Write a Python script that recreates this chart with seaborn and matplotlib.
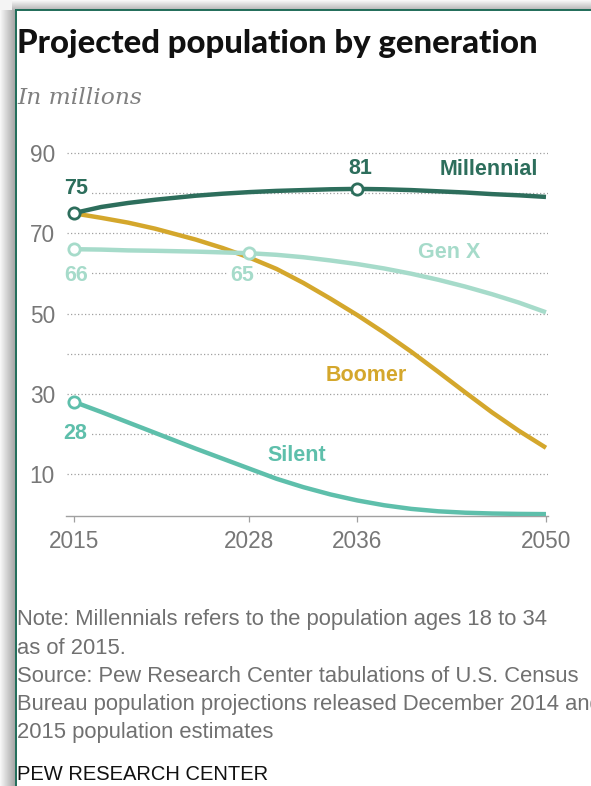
import numpy as np
import pandas as pd
import matplotlib
matplotlib.use("Agg")
import matplotlib.pyplot as plt
import seaborn as sns

# ---- data (millions) ----
years = [2015, 2017, 2019, 2021, 2024, 2026, 2028, 2030, 2032, 2034,
         2036, 2038, 2040, 2042, 2044, 2046, 2048, 2050]
millennial = [75.0, 76.5, 77.5, 78.3, 79.3, 79.8, 80.2, 80.5, 80.7, 80.9,
              81.0, 80.9, 80.7, 80.4, 80.1, 79.7, 79.4, 79.0]
gen_x = [66.0, 65.9, 65.7, 65.6, 65.4, 65.2, 65.0, 64.6, 64.0, 63.2,
         62.3, 61.2, 59.9, 58.4, 56.7, 54.8, 52.7, 50.3]
boomer = [74.9, 73.8, 72.6, 71.1, 68.4, 66.3, 63.9, 61.1, 57.6, 53.7,
          49.6, 45.2, 40.5, 35.5, 30.4, 25.4, 20.8, 16.6]
silent = [28.0, 25.5, 22.9, 20.3, 16.4, 13.9, 11.4, 8.9, 6.8, 5.0,
          3.5, 2.3, 1.4, 0.8, 0.45, 0.25, 0.15, 0.1]

generations = ["Silent", "Boomer", "Gen X", "Millennial"]
x_ticks = [2015, 2028, 2036, 2050]
y_ticks = [10, 30, 50, 70, 90]
grid_levels = [10, 20, 30, 40, 50, 60, 70, 80, 90]
marked_years = {"Millennial": [2015, 2036], "Gen X": [2015, 2028], "Silent": [2015]}

title = "Projected population by generation"
subtitle = "In millions"
notes = [
    "Note: Millennials refers to the population ages 18 to 34",
    "as of 2015.",
    "Source: Pew Research Center tabulations of U.S. Census",
    "Bureau population projections released December 2014 and",
    "2015 population estimates",
]
credit = "PEW RESEARCH CENTER"

palette = {
    "Millennial": "#2d6e5c",
    "Gen X": "#a6dbca",
    "Boomer": "#d4a72c",
    "Silent": "#5ebfab",
}

series = {"Millennial": millennial, "Gen X": gen_x, "Boomer": boomer, "Silent": silent}
df = pd.concat(
    [pd.DataFrame({"year": years, "pop": vals, "gen": name}) for name, vals in series.items()],
    ignore_index=True,
)

# ---- figure ----
sns.set_theme(style="white")
plt.rcParams["font.family"] = ["Liberation Sans", "DejaVu Sans"]

W, H = 591, 786
fig = plt.figure(figsize=(W / 100, H / 100), dpi=100, facecolor="white")

# frame: soft shadow on the top/left and a thin green border
bg = fig.add_axes([0, 0, 1, 1], zorder=-5)
bg.set_xlim(0, W)
bg.set_ylim(H, 0)
bg.axis("off")
left_grad = np.linspace(0.97, 0.66, 15)[None, :]
bg.imshow(left_grad, cmap="gray", vmin=0, vmax=1, extent=(0, 15, H, 9),
          aspect="auto", interpolation="bilinear")
top_grad = np.linspace(0.97, 0.72, 10)[:, None]
bg.imshow(top_grad, cmap="gray", vmin=0, vmax=1, extent=(12, W, 10, 0),
          aspect="auto", interpolation="bilinear")
bg.add_patch(plt.Rectangle((0, 0), 12, 10, color="#f4f4f4", lw=0))
bg.plot([15.5, 15.5], [10, H], color="#1f6b58", lw=1.4, solid_capstyle="butt")
bg.plot([15, W], [10, 10], color="#1f6b58", lw=1.4, solid_capstyle="butt")

# ---- plot area ----
ax = fig.add_axes([66 / W, (H - 516) / H, 482 / W, 364.5 / H])
ax.set_facecolor("none")
ax.set_xlim(2014.384, 2050.15)
ax.set_ylim(-0.37, 90.3)

for lvl in grid_levels:
    ax.axhline(lvl, xmin=0.003, xmax=1, color="#a0a0a0", lw=0.9,
               linestyle=(0, (1, 1.8)), zorder=0)

sns.lineplot(data=df, x="year", y="pop", hue="gen", hue_order=generations,
             palette=palette, linewidth=3.2, legend=False, ax=ax, zorder=3,
             solid_capstyle="butt", solid_joinstyle="round")

# open circle markers and their value labels
label_offsets = {
    ("Millennial", 2015): (1.5, 17.8, "center"),
    ("Millennial", 2036): (2, 14.9, "center"),
    ("Gen X", 2015): (1.5, -18.6, "center"),
    ("Gen X", 2028): (-5, -15.7, "center"),
    ("Silent", 2015): (0.8, -22.6, "center"),
}
for gen, yrs in marked_years.items():
    vals = [series[gen][years.index(y)] for y in yrs]
    sns.scatterplot(x=yrs, y=vals, color="white", edgecolor=palette[gen],
                    linewidth=2.0, s=66, ax=ax, zorder=6, legend=False)
    for yr, v in zip(yrs, vals):
        dx, dy, ha = label_offsets[(gen, yr)]
        ax.annotate(f"{v:.0f}", (yr, v), xytext=(dx, dy), textcoords="offset points",
                    ha=ha, va="center", fontsize=15.5, fontweight="bold",
                    color=palette[gen], zorder=2, annotation_clip=False,
                    bbox=dict(facecolor="white", edgecolor="none", pad=1.5))

# series names
name_pos = {
    "Millennial": (2049.4, 85.8, "right"),
    "Gen X": (2042.8, 65.1, "center"),
    "Boomer": (2036.65, 34.7, "center"),
    "Silent": (2031.5, 14.8, "center"),
}
for gen, (xx, yy, ha) in name_pos.items():
    ax.text(xx, yy, gen, ha=ha, va="center", fontsize=15.5, fontweight="bold",
            color=palette[gen], zorder=2)

# axes styling
for side in ["top", "right", "left"]:
    ax.spines[side].set_visible(False)
ax.spines["bottom"].set_color("#a0a0a0")
ax.spines["bottom"].set_linewidth(1.0)
ax.set_xticks(x_ticks)
ax.set_xticklabels([str(t) for t in x_ticks])
ax.set_yticks(y_ticks)
ax.set_yticklabels([str(t) for t in y_ticks])
ax.tick_params(axis="x", length=4.3, width=0.9, color="#a0a0a0", pad=5.5,
               labelsize=16.3, labelcolor="#777777", bottom=True)
ax.tick_params(axis="y", length=0, pad=8, labelsize=16.3, labelcolor="#777777")
ax.set_xlabel("")
ax.set_ylabel("")

# ---- titles and notes ----
fig.text(17 / W, 1 - 53 / H, title, ha="left", va="baseline",
         fontsize=23.7, fontweight="black", color="#111111", family=["Lato", "DejaVu Sans"])
fig.text(17 / W, 1 - 104 / H, subtitle, ha="left", va="baseline",
         fontsize=16.8, style="italic", color="#808080", family=["DejaVu Serif"])

for i, line in enumerate(notes):
    fig.text(17 / W, 1 - (620 + 28.2 * i) / H, line, ha="left", va="center",
             fontsize=15.8, color="#707070")
fig.text(17 / W, 1 - 775 / H, credit, ha="left", va="center",
         fontsize=14.5, color="#111111")

fig.savefig("out.png", dpi=100, facecolor="white")
